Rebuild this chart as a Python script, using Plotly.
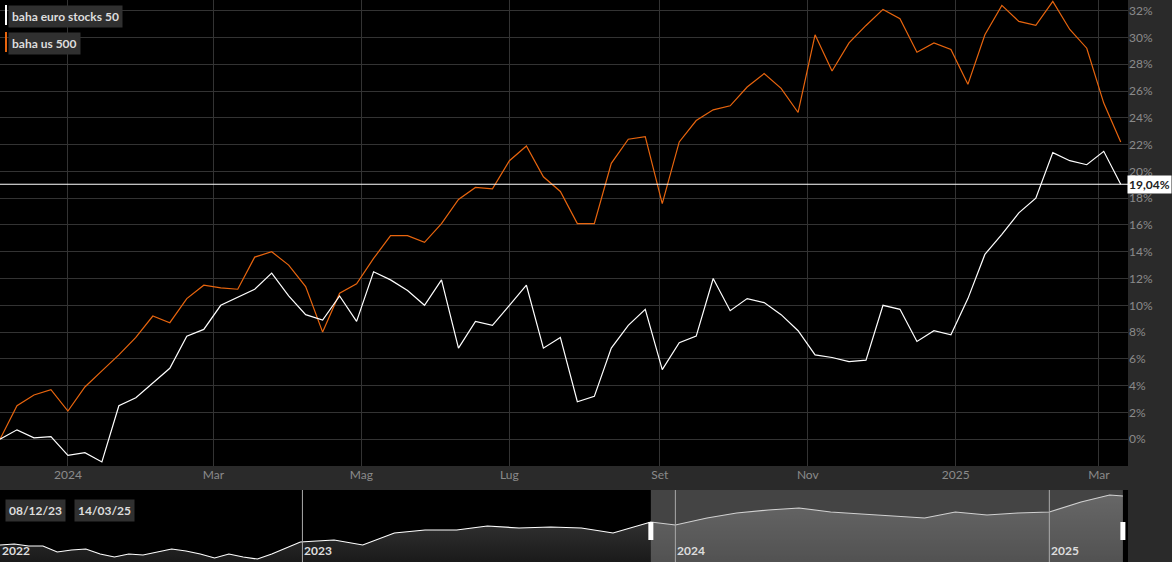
import pandas as pd
import plotly.graph_objects as go

# dati settimanali (performance % dal 08/12/23)
dates = pd.date_range("2023-12-04", periods=67, freq="7D")

us500 = [0, 2.5, 3.3, 3.7, 2.1, 3.9, 5.1, 6.3, 7.6, 9.2, 8.7, 10.5, 11.5, 11.3, 11.2, 13.6, 14.0,
         13.0, 11.4, 8.0, 10.9, 11.6, 13.5, 15.2, 15.2, 14.7, 16.1, 17.9, 18.8, 18.7, 20.8, 21.9,
         19.6, 18.5, 16.1, 16.1, 20.6, 22.4, 22.6, 17.6, 22.2, 23.8, 24.6, 24.9, 26.3, 27.3, 26.2,
         24.4, 30.2, 27.5, 29.6, 30.9, 32.1, 31.4, 28.9, 29.6, 29.1, 26.5, 30.2, 32.4, 31.2, 30.9,
         32.7, 30.6, 29.2, 25.1, 22.2]

euro50 = [0, 0.7, 0.1, 0.2, -1.2, -1.0, -1.7, 2.5, 3.1, 4.2, 5.3, 7.7, 8.2, 10.0, 10.6, 11.2, 12.4,
          10.7, 9.3, 8.9, 10.7, 8.8, 12.5, 11.9, 11.1, 10.0, 11.9, 6.8, 8.8, 8.5, 10.0, 11.5,
          6.8, 7.6, 2.8, 3.2, 6.8, 8.5, 9.7, 5.2, 7.2, 7.7, 12.0, 9.6, 10.5, 10.2, 9.3,
          8.1, 6.3, 6.1, 5.8, 5.9, 10.0, 9.7, 7.3, 8.1, 7.8, 10.5, 13.8, 15.3, 16.9, 18.0,
          21.4, 20.8, 20.5, 21.5, 19.04]

# navigatore (storico lungo, livello relativo)
nav_dates = ["2022-03-11", "2022-03-25", "2022-04-08", "2022-04-22", "2022-05-06", "2022-05-20",
             "2022-06-03", "2022-06-17", "2022-07-01", "2022-07-15", "2022-07-29", "2022-08-12",
             "2022-08-26", "2022-09-09", "2022-09-23", "2022-10-07", "2022-10-21", "2022-11-04",
             "2022-11-18", "2022-12-02", "2022-12-16", "2022-12-30", "2023-01-15", "2023-02-01",
             "2023-03-01", "2023-04-01", "2023-05-01", "2023-06-01", "2023-07-01", "2023-08-01",
             "2023-09-01", "2023-10-01", "2023-11-01", "2023-12-08", "2024-01-01", "2024-02-01",
             "2024-03-01", "2024-04-01", "2024-05-01", "2024-06-01", "2024-07-01", "2024-08-01",
             "2024-09-01", "2024-10-01", "2024-11-01", "2024-12-01", "2025-01-01", "2025-02-01",
             "2025-03-01", "2025-03-14"]
nav_vals = [17, 18, 16, 16, 10, 12, 13, 8, 5, 8, 7, 10, 13, 11, 8, 4, 8, 5, 3, 8, 14, 20,
            21, 22, 17, 29, 32, 32, 36, 34, 35, 34, 29, 40,
            37, 44, 49, 52, 54, 50, 48, 46, 44, 50, 47, 49, 50, 60, 67, 66]

tick_vals = ["2024-01-01", "2024-03-01", "2024-05-01", "2024-07-01", "2024-09-01", "2024-11-01",
             "2025-01-01", "2025-03-01"]
tick_text = ["2024", "Mar", "Mag", "Lug", "Set", "Nov", "2025", "Mar"]
y_ticks = list(range(0, 33, 2))
y_text = [str(v) + "%" for v in y_ticks]
years = ["2023-01-01", "2024-01-01", "2025-01-01"]

W, H = 1172, 562
xr = 1128 / W
font = dict(family="Lato, Open Sans, sans-serif", size=12, color="#8a8a8a")
lab = dict(family="Lato", size=12, color="#dddddd")

fig = go.Figure()
fig.add_trace(go.Scatter(x=dates, y=us500, mode="lines", line=dict(color="#e8650e", width=1.2),
                         xaxis="x", yaxis="y"))
fig.add_trace(go.Scatter(x=dates, y=euro50, mode="lines", line=dict(color="#ffffff", width=1.2),
                         xaxis="x", yaxis="y"))
fig.add_trace(go.Scatter(x=nav_dates, y=nav_vals, mode="lines", fill="tozeroy",
                         line=dict(color="#ffffff", width=1.2),
                         fillgradient=dict(type="vertical", colorscale=[[0, "#1a1a1a"], [1, "#404040"]]),
                         xaxis="x2", yaxis="y2"))

shapes = [
    dict(type="rect", xref="paper", yref="paper", x0=xr, x1=1, y0=96 / H, y1=1,
         fillcolor="#2a2a2a", line_width=0, layer="below"),
    dict(type="rect", xref="paper", yref="paper", x0=0, x1=1, y0=72 / H, y1=96 / H,
         fillcolor="#2a2a2a", line_width=0, layer="below"),
    dict(type="rect", xref="paper", yref="paper", x0=xr, x1=1, y0=0, y1=72 / H,
         fillcolor="#2a2a2a", line_width=0, layer="below"),
    dict(type="line", xref="paper", yref="y", x0=0, x1=xr, y0=euro50[-1], y1=euro50[-1],
         line=dict(color="#ffffff", width=1.2)),
    dict(type="rect", xref="x2", yref="paper", x0="2023-12-08", x1="2025-03-14", y0=0, y1=72 / H,
         fillcolor="rgba(150,150,150,0.45)", line_width=0),
]
for y in years:
    shapes.append(dict(type="line", xref="x2", yref="paper", x0=y, x1=y, y0=0, y1=72 / H,
                       line=dict(color="#aaaaaa", width=1)))
for xd in ["2023-12-08", "2025-03-14"]:
    shapes.append(dict(type="rect", xref="x2", yref="paper", x0=xd, x1=xd, y0=22 / H, y1=40 / H,
                       line=dict(color="#ffffff", width=5)))
# barrette legenda
shapes.append(dict(type="rect", xref="paper", yref="paper", x0=5 / W, x1=7 / W, y0=1 - 25 / H, y1=1 - 5 / H,
                   fillcolor="#ffffff", line_width=0))
shapes.append(dict(type="rect", xref="paper", yref="paper", x0=5 / W, x1=7 / W, y0=1 - 52 / H, y1=1 - 32 / H,
                   fillcolor="#e8650e", line_width=0))

annotations = [
    dict(text="<b>baha euro stocks 50</b>", xref="paper", yref="paper", x=8 / W, y=1 - 5 / H,
         xanchor="left", yanchor="top", showarrow=False, bgcolor="#303030", font=lab, borderpad=3),
    dict(text="<b>baha us 500</b>", xref="paper", yref="paper", x=8 / W, y=1 - 32 / H,
         xanchor="left", yanchor="top", showarrow=False, bgcolor="#303030", font=lab, borderpad=3),
    dict(text="<b>19,04%</b>", xref="paper", yref="y", x=1, y=euro50[-1], xanchor="right",
         showarrow=False, bgcolor="#ffffff", font=dict(family="Lato", size=12, color="#222222"),
         borderpad=1),
    dict(text="<b>08/12/23</b>", xref="paper", yref="paper", x=5 / W, y=63 / H, xanchor="left",
         yanchor="top", showarrow=False, bgcolor="#303030", font=lab, borderpad=3),
    dict(text="<b>14/03/25</b>", xref="paper", yref="paper", x=74 / W, y=63 / H, xanchor="left",
         yanchor="top", showarrow=False, bgcolor="#303030", font=lab, borderpad=3),
    dict(text="<b>2022</b>", xref="paper", yref="paper", x=0, y=2 / H, xanchor="left",
         yanchor="bottom", showarrow=False, font=lab),
]
for y in years:
    annotations.append(dict(text="<b>" + y[:4] + "</b>", xref="x2", yref="paper", x=y, y=2 / H,
                            xanchor="left", yanchor="bottom", showarrow=False, font=lab))

fig.update_layout(
    width=W, height=H, margin=dict(l=0, r=0, t=0, b=0),
    paper_bgcolor="#000000", plot_bgcolor="#000000", showlegend=False, font=font,
    xaxis=dict(domain=[0, xr], anchor="y", range=["2023-12-04", "2025-03-13"],
               tickvals=tick_vals, ticktext=tick_text, showgrid=True, gridcolor="#333333",
               zeroline=False, ticks="", tickfont=font),
    yaxis=dict(domain=[96 / H, 1], anchor="x", side="right", range=[-2, 32.8],
               tickvals=y_ticks, ticktext=y_text, showgrid=True, gridcolor="#333333",
               zeroline=False, ticks="", tickfont=font),
    xaxis2=dict(domain=[0, xr], anchor="y2", range=["2022-03-11", "2025-03-19"],
                showgrid=False, showticklabels=False, zeroline=False),
    yaxis2=dict(domain=[0, 72 / H], anchor="x2", range=[0, 72], showgrid=False,
                showticklabels=False, zeroline=False),
    shapes=shapes, annotations=annotations,
)

fig.write_html("out.html", config={"displayModeBar": False},
               post_script="document.body.style.margin='0';document.body.style.overflow='hidden';")
